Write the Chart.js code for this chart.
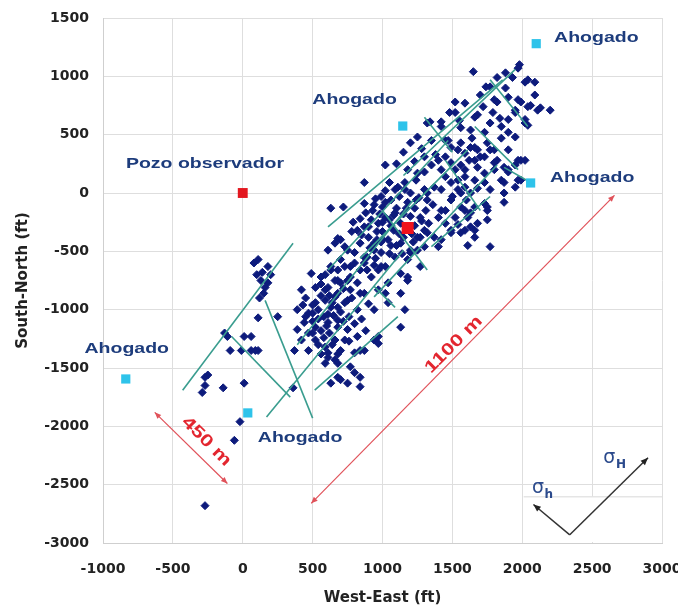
<!DOCTYPE html>
<html>
<head>
<meta charset="utf-8">
<script src="https://cdn.jsdelivr.net/npm/chart.js@4.4.1/dist/chart.umd.min.js"></script>
<style>
  html, body { margin: 0; padding: 0; background: #fff; }
</style>
</head>
<body>
<canvas id="canvas" width="678" height="612"></canvas>
<script>
// microseismic events, [West-East ft, South-North ft]
var events = [
  [1650,1040],[1980,1100],[1970,1070],[1880,1030],[1930,990],[2020,950],[2090,950],[2090,840],[2060,750],[2110,710],
  [2200,710],[1820,990],[1770,910],[1740,910],[1820,780],[1970,800],[1990,780],[1950,690],[2040,580],[2020,630],
  [1520,780],[1590,770],[1480,690],[1340,610],[1420,610],[1560,560],[1630,540],[1680,670],[1790,690],[1840,640],
  [1770,600],[1850,570],[1900,520],[1950,480],[1450,450],[1490,390],[1540,370],[1590,340],[1630,390],[1680,370],
  [1730,310],[1750,430],[1800,370],[1820,280],[1870,220],[1900,200],[1970,280],[1950,240],[2020,280],[1400,280],
  [1350,240],[1300,310],[1490,260],[1590,200],[1680,220],[1730,170],[1800,200],
  [1250,170],[1450,310],[1660,390],[1770,370],[1900,370],[1800,260],[1900,180],[1970,110],[1870,90],[1870,0],
  [1870,-80],[1770,30],[1730,90],[1660,110],[1590,140],[1490,90],[1420,30],[1320,0],[1540,30],[1630,0],
  [1730,-90],[1660,-120],[1560,-120],[1490,-60],[1420,-150],[1520,-210],[1610,-210],[1680,-260],[1750,-150],[1750,-230],
  [1450,-260],[1400,-210],[1490,-320],[1590,-320],[1660,-380],[1320,-340],[1420,-400],[1270,-380],[1300,-460],[1770,-460],
  [1250,-490],
  [1020,240],[1180,200],[1050,90],[1160,90],[1090,30],[630,-130],[720,-120],[870,-90],[940,-100],[990,-30],
  [1200,0],[1300,30],[1370,50],[1450,140],[1520,200],[1560,240],[1590,50],[1560,0],[1450,-150],[1540,-270],
  [1590,-150],[1630,-290],[1610,-450],[1560,-340],[1400,-460],[1370,-380],[1300,-320],[1250,-380],[1270,-210],[1090,-170],
  [1020,-210],[970,-260],[870,-290],[820,-320],[700,-400],[660,-430],[750,-490],[840,-430],[940,-430],[1040,-400],
  [1130,-430],[1200,-490],[1180,-570],[1090,-550],[990,-510],[890,-550],[800,-600],[730,-630],[630,-660],[680,-750],
  [770,-720],[890,-660],[990,-630],[1130,-690],[1180,-720],
  [790,-250],[680,-390],[610,-490],[730,-460],[800,-510],[870,-550],[940,-490],[700,-570],[770,-630],[840,-660],
  [630,-630],[490,-690],[560,-720],[660,-750],[750,-750],[820,-770],[920,-720],[970,-660],[420,-830],[520,-810],
  [590,-830],[680,-860],[770,-830],[870,-860],[970,-830],[1040,-770],
  [110,-570],[180,-630],[130,-750],[180,-770],[160,-810],[590,-700],[680,-660],[870,-600],[940,-620],[1020,-630],
  [610,-810],[700,-770],[840,-860],[660,-890],[590,-920],[520,-940],[390,-1000],[470,-1030],[540,-1000],[630,-980],
  [730,-940],[820,-1000],[940,-1000],[440,-1110],[520,-1150],[610,-1110],[680,-1150],[750,-1170],[390,-1170],[420,-1260],
  [520,-1260],[660,-1260],[730,-1260],[820,-1230],[940,-1260],[970,-1290],[370,-1350],[470,-1350],[590,-1320],[700,-1350],
  [800,-1370],[870,-1350],[610,-1410],[660,-1430],[680,-1460],[700,-1600],[770,-1490],[800,-1540],[840,-1660],[750,-1630],
  [60,-1230],[110,-1070],[250,-1060],[60,-1350],
  [-110,-1230],[-90,-1350],[-10,-1350],[110,-1350],[-250,-1560],[-270,-1650],[-290,-1710],[-140,-1670],[10,-1630],[360,-1670],
  [-20,-1960],[-60,-2120],[-270,-2680],
  [80,-600],[140,-680],[200,-700],[100,-700],[150,-860],[120,-900],
  [610,-1370],[590,-1460],[630,-1630],[-130,-1200],[10,-1230],[90,-1350],[-270,-1580],
  [750,-920],[1040,-940],[1160,-1000],[1130,-1150],[970,-1230],[840,-1350],[680,-1580],[840,-1580],
  [2040,970],[2040,740],[2130,730],[1520,690],[1320,600],[1250,480],[1420,570],[1470,450],[1660,650],[1800,800],
  [1950,710],[2020,600],[1900,630],[1350,450],[1240,110],[1660,280],[1990,110],[1850,110],[1950,50],[1990,280],
  [870,90],[1110,50],[1320,-60],[1630,-170],[1750,-120],[1660,-320],[1490,-340],
  [950,-50],[1000,-120],[1060,-60],[1100,-130],[1150,-180],[1050,-230],[980,-180],[920,-230],[1120,-30],[1180,-80],
  [1230,-130],[1260,-40],[1000,-330],[1080,-320],[1150,-380],[900,-380],[1100,-450],[1050,-520],[950,-560],[1230,-280],
  [1280,-240],[880,-170],[1020,20],[1160,30],[1210,-350],[840,-220],[780,-330],[910,-470],[1000,-400],[960,-330],
  [450,-900],[500,-960],[560,-880],[640,-940],[700,-1020],[760,-1060],[850,-1080],[900,-950],[580,-1060],[680,-1090],
  [450,-1060],[500,-1100],[560,-1180],[620,-1200],[470,-1200],[540,-1300],[650,-1050],[600,-1140],
  [1150,350],[1200,430],[1280,380],[1100,250],[1300,180],[1380,330],[1420,200],[1230,270],
  [1200,-510],[1270,-630],[1180,-750],[1130,-860],[1020,-860],
  [1020,-80],[1080,-190],[1130,-260],[1200,-200],[1060,-280],[1120,-350],[990,-420],[1060,-450],[930,-150],[1000,-250],
  [1170,-130],[1240,-60],[1310,-150],[1330,-260],[1360,-100],[1220,-420],[1140,-520],[900,-290],[960,-400],[850,-360],
  [560,-780],[620,-880],[720,-820],[780,-900],[540,-1080],[610,-1040],[680,-980],[500,-1200],[580,-1240],[640,-1300],
  [720,-1100],[800,-1120],[880,-1180],[760,-1270],[680,-1380],[560,-1380],[500,-1030],[430,-960],
  [1500,-30],[1600,-60],[1680,40],[1540,110],[1620,280],[1700,310],[1560,430],[1640,470],[1730,520],[1850,470],
  [1880,900],[1700,840],[1900,820],[1550,620],[1720,740]
];

// fracture traces [x1, y1, x2, y2]
var neTraces = [
  [-430,-1690, 360,-430],
  [170,-1920, 1150,-490],
  [515,-1690, 1110,-1060],
  [390,-1300, 1220,-60],
  [610,-660, 1470,450],
  [610,-290, 1860,970],
  [840,-560, 1610,370],
  [940,-890, 1820,240],
  [1350,-460, 1770,-30],
  [1150,150, 1950,1060]
];
var nwTraces = [
  [160,-920, 500,-1930],
  [-80,-1230, 340,-1750],
  [1000,-150, 1320,-660],
  [1450,280, 1700,-150],
  [1770,970, 2040,570],
  [1660,570, 1970,200],
  [1870,220, 2060,90],
  [940,-800, 1090,-980],
  [1300,650, 1500,350]
];

// wells
var floodedWells = [[2100,1280],[1145,574],[2060,86],[-837,-1594],[36,-1885]];
var observerWell = [[0,0]];
var treatedWell = [[1180,-300]];

// text labels [text, x, y]
var wellLabels = [
  ['Ahogado', 2530, 1330],
  ['Ahogado', 800, 800],
  ['Ahogado', 2500, 130],
  ['Ahogado', -830, -1340],
  ['Ahogado', 410, -2100],
  ['Pozo observador', -270, 250]
];

// distance arrows [x1, y1, x2, y2], labels [text, x, y, angle]
var distArrows = [[-630,-1880, -110,-2490], [490,-2660, 2660,-20]];
var distLabels = [['450 m', -260, -2130, 45], ['1100 m', 1510, -1300, -45]];

// stress directions
var stressOrigin = [2340,-2930];
var sigmaHTip = [2900,-2270];
var sigmahTip = [2080,-2670];
var insetBox = [2010,-2600];

function pts(arr){
  return arr.map(function(p){ return {x: p[0], y: p[1]}; });
}

var datasets = [];
nwTraces.concat(neTraces).forEach(function(t){
  datasets.push({
    data: [{x:t[0], y:t[1]}, {x:t[2], y:t[3]}],
    showLine: true,
    borderColor: '#3a9d8f',
    borderWidth: 1.6,
    pointRadius: 0,
    order: 1
  });
});
datasets.push({
  data: pts(events),
  pointStyle: 'rectRot',
  pointRadius: 4,
  backgroundColor: '#0d1b7c',
  borderColor: '#0d1b7c',
  borderWidth: 1,
  order: 2
});
datasets.push({
  data: pts(floodedWells),
  pointStyle: 'rect',
  pointRadius: 6.5,
  backgroundColor: '#2ec3ea',
  borderWidth: 0,
  order: 0
});
datasets.push({
  data: pts(observerWell),
  pointStyle: 'rect',
  pointRadius: 7,
  backgroundColor: '#e3171f',
  borderWidth: 0,
  order: 0
});
datasets.push({
  data: pts(treatedWell),
  pointStyle: 'rect',
  pointRadius: 8.5,
  backgroundColor: '#f0121c',
  borderWidth: 0,
  order: 0
});

function drawArrow(ctx, x1, y1, x2, y2, size, both){
  ctx.beginPath();
  ctx.moveTo(x1, y1);
  ctx.lineTo(x2, y2);
  ctx.stroke();
  var heads = both ? [[x2,y2,x1,y1],[x1,y1,x2,y2]] : [[x2,y2,x1,y1]];
  heads.forEach(function(h){
    var a = Math.atan2(h[1]-h[3], h[0]-h[2]);
    ctx.beginPath();
    ctx.moveTo(h[0], h[1]);
    ctx.lineTo(h[0] - size*Math.cos(a-0.4), h[1] - size*Math.sin(a-0.4));
    ctx.lineTo(h[0] - size*Math.cos(a+0.4), h[1] - size*Math.sin(a+0.4));
    ctx.closePath();
    ctx.fill();
  });
}

function wideText(ctx, text, x, y, angle, sx){
  ctx.save();
  ctx.translate(x, y);
  ctx.rotate(angle * Math.PI / 180);
  ctx.scale(sx, 1);
  ctx.fillText(text, 0, 0);
  ctx.restore();
}

var extras = {
  id: 'extras',
  beforeDatasetsDraw: function(chart){
    var ctx = chart.ctx, sx = chart.scales.x, sy = chart.scales.y, area = chart.chartArea;
    var l = sx.getPixelForValue(insetBox[0]), t = sy.getPixelForValue(insetBox[1]);
    ctx.save();
    ctx.fillStyle = '#fff';
    ctx.fillRect(l, t, area.right - l - 1, area.bottom - t - 1);
    ctx.strokeStyle = '#d8d8d8';
    ctx.lineWidth = 1;
    ctx.beginPath();
    ctx.moveTo(l, t + 0.5);
    ctx.lineTo(area.right, t + 0.5);
    ctx.stroke();
    ctx.restore();
  },
  afterDatasetsDraw: function(chart){
    var ctx = chart.ctx, sx = chart.scales.x, sy = chart.scales.y;
    var px = function(v){ return sx.getPixelForValue(v); };
    var py = function(v){ return sy.getPixelForValue(v); };
    ctx.save();

    // well labels
    ctx.fillStyle = '#1d3c7c';
    ctx.font = 'bold 15px "Liberation Sans", Arial, sans-serif';
    ctx.textAlign = 'center';
    ctx.textBaseline = 'middle';
    wellLabels.forEach(function(l){
      wideText(ctx, l[0], px(l[1]), py(l[2]), 0, 1.3);
    });

    // distance arrows
    ctx.strokeStyle = '#e0525a';
    ctx.fillStyle = '#e0525a';
    ctx.lineWidth = 1.2;
    distArrows.forEach(function(a){
      drawArrow(ctx, px(a[0]), py(a[1]), px(a[2]), py(a[3]), 7, true);
    });
    ctx.fillStyle = '#e3262f';
    ctx.font = 'bold 17px "Liberation Sans", Arial, sans-serif';
    distLabels.forEach(function(l){
      wideText(ctx, l[0], px(l[1]), py(l[2]), l[3], 1.3);
    });

    // stress arrows
    ctx.strokeStyle = '#333';
    ctx.fillStyle = '#222';
    ctx.lineWidth = 1.5;
    drawArrow(ctx, px(stressOrigin[0]), py(stressOrigin[1]), px(sigmaHTip[0]), py(sigmaHTip[1]), 8, false);
    drawArrow(ctx, px(stressOrigin[0]), py(stressOrigin[1]), px(sigmahTip[0]), py(sigmahTip[1]), 8, false);

    ctx.fillStyle = '#2b4a8c';
    ctx.textAlign = 'left';
    ctx.font = '19px "DejaVu Sans", sans-serif';
    ctx.fillText('σ', px(2580), py(-2270));
    ctx.fillText('σ', px(2070), py(-2530));
    ctx.font = 'bold 12px "DejaVu Sans", sans-serif';
    ctx.fillText('H', px(2670), py(-2330));
    ctx.fillText('h', px(2160), py(-2590));
    ctx.restore();
  }
};

var tickFont = {family: '"DejaVu Sans", sans-serif', size: 14, weight: 'bold'};
var titleFont = {family: '"DejaVu Sans", sans-serif', size: 15, weight: 'bold'};

var ctx = document.getElementById('canvas').getContext('2d');
var chart = new Chart(ctx, {
  type: 'scatter',
  data: { datasets: datasets },
  options: {
    responsive: false,
    animation: false,
    events: [],
    layout: { padding: { left: 0, right: 16, top: 18, bottom: 0 } },
    plugins: { legend: { display: false }, tooltip: { enabled: false } },
    scales: {
      x: {
        min: -1000, max: 3000,
        ticks: { stepSize: 500, color: '#222', font: tickFont, padding: 18, maxRotation: 0,
                 callback: function(v){ return String(v); } },
        grid: { color: '#dedede', drawTicks: false },
        border: { color: '#cfcfcf' },
        title: { display: true, text: 'West-East (ft)', color: '#222', font: titleFont, padding: { top: 0, bottom: 5 } },
        afterFit: function(s){ s.height = 69; s.paddingLeft = 0; s.paddingRight = 0; }
      },
      y: {
        min: -3000, max: 1500,
        ticks: { stepSize: 500, color: '#222', font: tickFont, padding: 14,
                 callback: function(v){ return String(v); } },
        grid: { color: '#dedede', drawTicks: false },
        border: { color: '#cfcfcf' },
        title: { display: true, text: 'South-North (ft)', color: '#222', font: titleFont, padding: { top: 14, bottom: 0 } },
        afterFit: function(s){ s.width = 103; s.paddingTop = 0; s.paddingBottom = 0; }
      }
    }
  },
  plugins: [extras]
});
</script>
</body>
</html>
